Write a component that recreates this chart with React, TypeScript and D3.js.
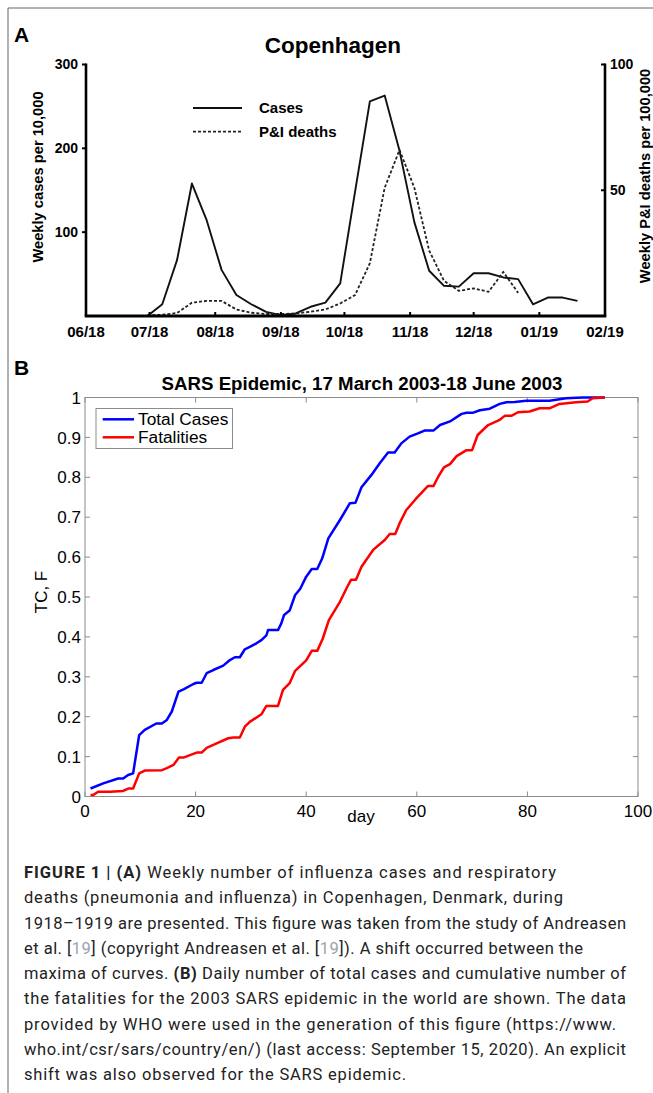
import React from "react";
import * as d3 from "d3";

// ---- panel A: Copenhagen 1918-1919, weekly values ----
const weekDates = [
  "1918-06-30", "1918-07-07", "1918-07-14", "1918-07-21", "1918-07-28",
  "1918-08-04", "1918-08-11", "1918-08-18", "1918-08-25", "1918-09-01",
  "1918-09-08", "1918-09-15", "1918-09-22", "1918-09-29", "1918-10-06",
  "1918-10-13", "1918-10-20", "1918-10-27", "1918-11-03", "1918-11-10",
  "1918-11-17", "1918-11-24", "1918-12-01", "1918-12-08", "1918-12-15",
  "1918-12-22", "1918-12-29", "1919-01-05", "1919-01-12", "1919-01-19",
];
const weeklyCases = [
  0, 14, 67, 158, 114, 55, 25, 14, 5, 1, 3, 11, 16, 39, 148,
  256, 263, 197, 112, 54, 36, 35, 51, 51, 46, 44, 14, 22, 22, 18,
];
const weeklyDeaths = [
  0.3, 0.5, 1.2, 5.3, 6, 6, 2.6, 1.3, 0.8, 0.8, 1, 1.7, 2.6, 5, 8.3,
  21, 51, 66, 51, 26, 14, 10, 11, 9.6, 17.5, 9.2,
];
const monthTicks = [
  "1918-06-01", "1918-07-01", "1918-08-01", "1918-09-01", "1918-10-01",
  "1918-11-01", "1918-12-01", "1919-01-01", "1919-02-01",
];
const casesTicks = [100, 200, 300];
const deathTicks = [50, 100];

// ---- panel B: SARS 2003, normalised cumulative ----
const tcDay = [
  1, 3.3, 6, 6.9, 7.8, 8.7, 9.8, 10.8, 12.9, 13.9, 14.8, 15.7, 16.9, 17.9, 19.6, 20.2,
  21.1, 22, 23.2, 25, 26.2, 27.1, 28, 28.9, 29.8, 31, 31.9, 32.8, 33.1, 34.9, 35.5, 36,
  37, 38, 38.9, 40, 41, 42, 42.9, 44, 46.1, 47.9, 48.9, 50, 51.8, 53.3, 54.8, 56, 57.2,
  58.7, 60.2, 61.4, 63, 64.2, 66, 68.1, 69, 70.2, 71.4, 73.2, 75, 76.2, 77.7, 79.8, 84,
  87, 90, 94,
];
const tcValue = [
  0.02, 0.033, 0.045, 0.045, 0.054, 0.058, 0.154, 0.167, 0.183, 0.183, 0.192, 0.213,
  0.263, 0.269, 0.282, 0.285, 0.285, 0.309, 0.317, 0.328, 0.342, 0.349, 0.349, 0.369,
  0.375, 0.384, 0.392, 0.404, 0.417, 0.417, 0.434, 0.455, 0.466, 0.505, 0.52, 0.551,
  0.57, 0.57, 0.597, 0.647, 0.693, 0.735, 0.736, 0.775, 0.806, 0.835, 0.862, 0.862,
  0.885, 0.902, 0.91, 0.917, 0.917, 0.931, 0.94, 0.959, 0.962, 0.962, 0.968, 0.972,
  0.984, 0.988, 0.989, 0.992, 0.992, 0.998, 1, 1,
];
const fDay = [
  1, 1.5, 2.4, 4.5, 6.9, 7.8, 8.7, 9.8, 10.8, 13.9, 14.8, 16, 17, 17.9, 20.2, 21.1,
  22, 23.8, 25.9, 26.8, 28, 28.9, 29.8, 31.9, 32.8, 34.9, 35.8, 37, 38, 40, 41, 42, 43,
  44.1, 46.1, 47.3, 48.1, 49, 50, 52.1, 54.2, 55.1, 56.1, 56.9, 58.1, 59.9, 62, 63,
  63.9, 64.9, 66, 67.2, 69, 70, 71, 72.9, 75, 75.9, 77.1, 78.3, 80.4, 82.2, 84, 85.8,
  88.8, 90.9, 91.8, 94,
];
const fValue = [
  0.004, 0.004, 0.012, 0.012, 0.014, 0.02, 0.02, 0.058, 0.065, 0.066, 0.071, 0.079,
  0.098, 0.098, 0.11, 0.11, 0.122, 0.133, 0.146, 0.148, 0.148, 0.175, 0.187, 0.206,
  0.227, 0.227, 0.267, 0.284, 0.315, 0.341, 0.365, 0.365, 0.396, 0.442, 0.488, 0.522,
  0.543, 0.543, 0.576, 0.618, 0.643, 0.658, 0.658, 0.685, 0.718, 0.747, 0.778, 0.778,
  0.802, 0.825, 0.833, 0.853, 0.868, 0.868, 0.906, 0.931, 0.944, 0.954, 0.954, 0.963,
  0.965, 0.973, 0.973, 0.984, 0.988, 0.99, 0.998, 1,
];
const dayTicks = [0, 20, 40, 60, 80, 100];
const fracTicks = [0, 0.1, 0.2, 0.3, 0.4, 0.5, 0.6, 0.7, 0.8, 0.9, 1];

// caption, one entry per printed line: [text, style]
const captionLines: [string, string][][] = [
  [["FIGURE 1 | (A)", "b"], [" Weekly number of influenza cases and respiratory", ""]],
  [["deaths (pneumonia and influenza) in Copenhagen, Denmark, during", ""]],
  [["1918\u20131919 are presented. This figure was taken from the study of Andreasen", ""]],
  [["et al. [", ""], ["19", "r"], ["] (copyright Andreasen et al. [", ""], ["19", "r"], ["]). A shift occurred between the", ""]],
  [["maxima of curves. ", ""], ["(B)", "b"], [" Daily number of total cases and cumulative number of", ""]],
  [["the fatalities for the 2003 SARS epidemic in the world are shown. The data", ""]],
  [["provided by WHO were used in the generation of this figure (https://www.", ""]],
  [["who.int/csr/sars/country/en/) (last access: September 15, 2020). An explicit", ""]],
  [["shift was also observed for the SARS epidemic.", ""]],
];
const captionWidths = [532, 539, 602, 559, 602, 602, 592, 602, 382];

const parse = d3.timeParse("%Y-%m-%d");
const fmtMonth = d3.timeFormat("%m/%y");

const SANS = "'Liberation Sans', Arial, Helvetica, sans-serif";

function PanelA() {
  const x = d3.scaleTime()
    .domain([parse(monthTicks[0])!, parse(monthTicks[monthTicks.length - 1])!])
    .range([86, 605]);
  const yL = d3.scaleLinear().domain([0, 300]).range([316, 64.5]);
  const yR = d3.scaleLinear().domain([0, 100]).range([316, 64.5]);

  const casesLine = d3.line<number>()
    .x((d, i) => x(parse(weekDates[i])!))
    .y(d => yL(d));
  const deathsLine = d3.line<number>()
    .x((d, i) => x(parse(weekDates[i])!))
    .y(d => yR(d));

  const [x0, x1] = x.range();
  const [yb, yt] = yL.range();

  return (
    <g fontFamily={SANS} fontWeight="bold">
      <text x={14} y={42} fontSize={21}>A</text>
      <text x={333} y={52.5} fontSize={22.5} textAnchor="middle">Copenhagen</text>

      <path d={casesLine(weeklyCases)!} fill="none" stroke="#111" strokeWidth={1.9} strokeLinejoin="round" />
      <path d={deathsLine(weeklyDeaths)!} fill="none" stroke="#222" strokeWidth={1.8} strokeDasharray="3 2" />

      {/* axes */}
      <line x1={x0} x2={x0} y1={yt - 1} y2={yb} stroke="#000" strokeWidth={2.6} />
      <line x1={x1} x2={x1} y1={yt - 1} y2={yb} stroke="#000" strokeWidth={2.6} />
      <line x1={x0 - 1.3} x2={x1 + 1.3} y1={yb} y2={yb} stroke="#000" strokeWidth={2.8} />

      {casesTicks.map(t => (
        <g key={"l" + t}>
          <line x1={x0 - 4} x2={x0} y1={yL(t)} y2={yL(t)} stroke="#000" strokeWidth={2} />
          <text x={78} y={yL(t)} dy="0.35em" fontSize={14} textAnchor="end">{t}</text>
        </g>
      ))}
      {deathTicks.map(t => (
        <g key={"r" + t}>
          <line x1={x1 - 4} x2={x1} y1={yR(t)} y2={yR(t)} stroke="#000" strokeWidth={2} />
          <text x={610} y={yR(t)} dy="0.35em" fontSize={14}>{t}</text>
        </g>
      ))}
      {monthTicks.map(m => {
        const d = parse(m)!;
        return (
          <g key={m}>
            <line x1={x(d)} x2={x(d)} y1={yb} y2={yb - 4} stroke="#000" strokeWidth={2} />
            <text x={x(d)} y={337} fontSize={15} textAnchor="middle">{fmtMonth(d)}</text>
          </g>
        );
      })}

      <text transform="translate(43,177) rotate(-90)" fontSize={14.7} textAnchor="middle">
        Weekly cases per 10,000
      </text>
      <text transform="translate(650,176) rotate(-90)" fontSize={14.7} textAnchor="middle">
        Weekly P&amp;I deaths per 100,000
      </text>

      {/* legend */}
      <line x1={193} x2={242} y1={108} y2={108} stroke="#111" strokeWidth={1.9} />
      <text x={259} y={113.3} fontSize={15}>Cases</text>
      <line x1={193} x2={242} y1={131.7} y2={131.7} stroke="#222" strokeWidth={1.8} strokeDasharray="3 2" />
      <text x={259} y={137} fontSize={15}>P&amp;I deaths</text>
    </g>
  );
}

function PanelB() {
  const x = d3.scaleLinear().domain([0, 100]).range([85, 638]);
  const y = d3.scaleLinear().domain([0, 1]).range([796.5, 397.5]);
  const tcLine = d3.line<number>().x((d, i) => x(tcDay[i])).y(d => y(d));
  const fLine = d3.line<number>().x((d, i) => x(fDay[i])).y(d => y(d));
  const [x0, x1] = x.range();
  const [yb, yt] = y.range();
  const grey = "#8c8c8c";

  return (
    <g fontFamily={SANS}>
      <text x={14} y={375} fontSize={21} fontWeight="bold">B</text>
      <text x={362} y={390} fontSize={18.7} fontWeight="bold" textAnchor="middle">
        SARS Epidemic, 17 March 2003-18 June 2003
      </text>

      <rect x={x0} y={yt} width={x1 - x0} height={yb - yt} fill="none" stroke={grey} strokeWidth={1} />
      {fracTicks.map(t => (
        <g key={"y" + t}>
          <line x1={x0} x2={x0 + 5} y1={y(t)} y2={y(t)} stroke={grey} />
          <line x1={x1} x2={x1 - 5} y1={y(t)} y2={y(t)} stroke={grey} />
          <text x={81} y={y(t)} dy="0.36em" fontSize={17} textAnchor="end">{String(+t.toFixed(1))}</text>
        </g>
      ))}
      {dayTicks.map(t => (
        <g key={"x" + t}>
          <line x1={x(t)} x2={x(t)} y1={yb} y2={yb - 5} stroke={grey} />
          <line x1={x(t)} x2={x(t)} y1={yt} y2={yt + 5} stroke={grey} />
          <text x={x(t)} y={817} fontSize={17} textAnchor="middle">{t}</text>
        </g>
      ))}
      <text x={361} y={822} fontSize={17} textAnchor="middle">day</text>
      <text transform="translate(47,592) rotate(-90)" fontSize={17} textAnchor="middle">TC, F</text>

      <path d={tcLine(tcValue)!} fill="none" stroke="#0000ff" strokeWidth={2.5} strokeLinejoin="round" />
      <path d={fLine(fValue)!} fill="none" stroke="#ff0000" strokeWidth={2.5} strokeLinejoin="round" />

      {/* legend */}
      <rect x={96} y={408.5} width={136.5} height={40} fill="#fff" stroke={grey} strokeWidth={1} />
      <line x1={102.7} x2={134} y1={419.3} y2={419.3} stroke="#0000ff" strokeWidth={2.5} />
      <text x={138} y={424.5} fontSize={17.3}>Total Cases</text>
      <line x1={102.7} x2={134} y1={437.3} y2={437.3} stroke="#ff0000" strokeWidth={2.5} />
      <text x={138} y={442.8} fontSize={17.3}>Fatalities</text>
    </g>
  );
}

function Caption() {
  return (
    <g fontFamily="Roboto, 'Liberation Sans', sans-serif" fontSize={16.5} fill="#222">
      {captionLines.map((segs, i) => (
        <text key={i} x={24} y={878 + i * 25.25} textLength={captionWidths[i]} lengthAdjust="spacing"
          style={{ whiteSpace: "pre" }}>
          {segs.map(([t, k], j) => (
            <tspan key={j} fontWeight={k === "b" ? "bold" : "normal"} fill={k === "r" ? "#9aa3ad" : "#222"}>{t}</tspan>
          ))}
        </text>
      ))}
    </g>
  );
}

export default function App() {
  return (
    <svg width={653} height={1093} style={{ position: "absolute", left: 0, top: 0, display: "block", background: "#fff" }}>
      <rect x={0} y={0} width={653} height={1093} fill="#fff" />
      <line x1={8} x2={653} y1={8} y2={8} stroke="#666" strokeWidth={1} />
      <line x1={8} x2={8} y1={8} y2={1093} stroke="#666" strokeWidth={1} />
      <PanelA />
      <PanelB />
      <Caption />
    </svg>
  );
}
